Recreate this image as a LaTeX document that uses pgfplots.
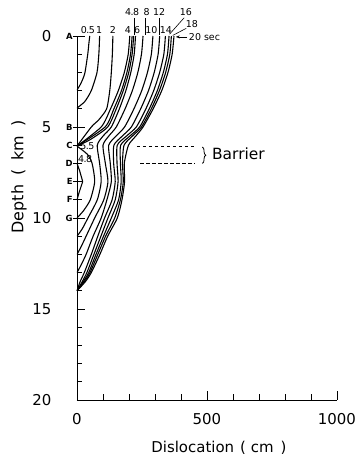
\documentclass[border=0pt]{standalone}
\usepackage{fontspec}
\setmainfont{DejaVu Sans}
\usepackage{graphicx}
\usepackage{pgfplots}
\pgfplotsset{compat=1.18}
\usetikzlibrary{decorations.pathreplacing,arrows.meta}
\newcommand{\sm}{\fontsize{9.5}{9.5}\selectfont}
\newcommand{\lt}{\fontsize{8.5}{8.5}\selectfont\bfseries}
\begin{document}
\begin{tikzpicture}
\begin{axis}[
 scale only axis, width=260bp, height=364bp,
 xmin=0,xmax=1000,ymin=-20,ymax=0,
 axis x line*=bottom, axis y line*=left,
 axis line style={line width=0.9pt},
 xtick={0,500,1000}, xticklabels={0,500,1000},
 minor x tick num=4,
 ytick={-20,-15,-10,-5,0}, yticklabels={20,15,10,5,0},
 minor y tick num=4,
 tick align=inside,
 major tick length=8.5bp, minor tick length=5.5bp,
 tick style={black,line width=0.8pt},
 ticklabel style={font=\fontsize{15}{15}\selectfont},
 xticklabel style={yshift=-10bp},
 yticklabel style={xshift=-22bp},
 extra y ticks={0,-5,-6,-7,-8,-9,-10},
 extra y tick labels={},
 extra y tick style={tick align=outside, major tick length=4bp},
 clip mode=individual,
 cycle list={{black,solid,mark=none}},
 every axis plot/.append style={black, line width=1.1pt, line join=round, smooth, tension=0.4},
]
% 0.5 s
\addplot coordinates {(49,0) (45,-0.5) (42,-0.93) (30,-2.05) (15,-2.6) (0,-2.97)};
% 1 s
\addplot coordinates {(87,0) (84,-1) (77,-2) (55,-3) (30,-3.6) (0,-3.96)};
% 2 s
\addplot coordinates {(138,0) (136,-1) (132,-2) (126,-3) (114,-4) (84,-4.6) (55,-5) (0,-6.05)};
% 4 s
\addplot coordinates {(203,0) (197,-1) (182,-2) (159,-3) (129,-4) (93,-5) (0,-6.05)};
% 4.8 s
\addplot coordinates {(212,0) (206,-1) (192,-2) (171,-3) (142,-4) (108,-5) (0,-6.05)};
\addplot[sharp plot] coordinates {(0,-7) (10,-7.4) (22,-8) (8,-8.6) (0,-9)};
% 5.5 s
\addplot coordinates {(218,0) (212,-1) (199,-2) (178,-3) (151,-4) (118,-5) (50,-5.7) (0,-6.05)};
\addplot coordinates {(0,-6.05) (40,-6.5) (58,-7) (68,-8) (51,-9) (25,-9.6) (0,-10)};
% 6 s
\addplot coordinates {(225,0) (220,-1) (207,-2) (188,-3) (163,-4) (132,-5) (100,-5.5) (78,-6) (87,-7) (93,-8) (78,-9) (42,-10) (20,-10.6) (0,-11)};
% 8 s
\addplot coordinates {(254,0) (248,-1) (234,-2) (213,-3) (185,-4) (151,-5) (122,-5.5) (100,-6) (109,-7) (119,-8) (103,-9) (68,-10) (35,-11) (15,-11.6) (0,-12)};
% 10 s
\addplot coordinates {(292,0) (286,-1) (271,-2) (249,-3) (219,-4) (183,-5) (150,-5.5) (122,-6) (128,-7) (132,-8) (115,-9) (93,-10) (62,-11) (35,-12) (15,-12.6) (0,-13)};
% 12 s
\addplot coordinates {(318,0) (312,-1) (297,-2) (275,-3) (245,-4) (209,-5) (174,-5.5) (142,-6) (141,-7) (147,-8) (135,-9) (106,-10) (80,-11) (55,-12) (28,-13) (12,-13.5) (0,-14)};
% 14 s
\addplot coordinates {(340,0) (334,-1) (318,-2) (295,-3) (265,-4) (228,-5) (190,-5.5) (155,-6) (154,-7) (158,-8) (147,-9) (119,-10) (92,-11) (65,-12) (38,-13) (20,-13.5) (0,-14)};
% 16 s
\addplot coordinates {(354,0) (348,-1) (332,-2) (309,-3) (278,-4) (241,-5) (203,-5.5) (168,-6) (167,-7) (170,-8) (160,-9) (132,-10) (102,-11) (73,-12) (45,-13) (24,-13.5) (0,-14)};
% 18 s
\addplot coordinates {(363,0) (357,-1) (341,-2) (317,-3) (286,-4) (248,-5) (213,-5.5) (181,-6) (175,-7) (178,-8) (167,-9) (145,-10) (110,-11) (80,-12) (50,-13) (28,-13.5) (0,-14)};
% 20 s
\addplot coordinates {(373,0) (366,-1) (350,-2) (326,-3) (293,-4) (254,-5) (226,-5.5) (198,-6) (182,-7) (183,-8) (173,-9) (155,-10) (118,-11) (88,-12) (55,-13) (32,-13.5) (0,-14)};

% letters
\node[anchor=east, inner sep=0pt, font=\lt] at (axis cs:-16,0) {A};
\node[anchor=east, inner sep=0pt, font=\lt] at (axis cs:-16,-5) {B};
\node[anchor=east, inner sep=0pt, font=\lt] at (axis cs:-16,-6) {C};
\node[anchor=east, inner sep=0pt, font=\lt] at (axis cs:-16,-7) {D};
\node[anchor=east, inner sep=0pt, font=\lt] at (axis cs:-16,-8) {E};
\node[anchor=east, inner sep=0pt, font=\lt] at (axis cs:-16,-9) {F};
\node[anchor=east, inner sep=0pt, font=\lt] at (axis cs:-16,-10) {G};
% time labels, lower row
\node[anchor=base, inner sep=0pt, font=\sm] at (axis cs:42,0.12) {0\kern-0.5bp.\kern-0.5bp5};
\node[anchor=base, inner sep=0pt, font=\sm] at (axis cs:85,0.12) {1};
\node[anchor=base, inner sep=0pt, font=\sm] at (axis cs:138,0.12) {2};
\node[anchor=base, inner sep=0pt, font=\sm] at (axis cs:196,0.12) {4};
\node[anchor=base, inner sep=0pt, font=\sm] at (axis cs:231,0.12) {6};
\node[anchor=base, inner sep=0pt, font=\sm] at (axis cs:286,0.12) {10};
\node[anchor=base, inner sep=0pt, font=\sm] at (axis cs:342,0.12) {14};
% upper row
\node[anchor=base, inner sep=0pt, font=\sm] at (axis cs:212,1.13) {4\kern-0.5bp.\kern-0.5bp8};
\node[anchor=base, inner sep=0pt, font=\sm] at (axis cs:268,1.13) {8};
\node[anchor=base, inner sep=0pt, font=\sm] at (axis cs:316,1.13) {12};
\node[anchor=base, inner sep=0pt, font=\sm] at (axis cs:419,1.13) {16};
\node[anchor=base, inner sep=0pt, font=\sm] at (axis cs:442,0.44) {18};
\node[anchor=base west, inner sep=0pt, font=\sm] at (axis cs:430,-0.27) {20 sec};
\draw[line width=0.6pt] (axis cs:222,1.0) -- (axis cs:222,0.05);
\draw[line width=0.6pt] (axis cs:262,1.0) -- (axis cs:262,0.05);
\draw[line width=0.6pt] (axis cs:318,1.0) -- (axis cs:318,0.05);
\draw[line width=0.6pt] (axis cs:412,1.0) -- (axis cs:356,0.1);
\draw[line width=0.6pt] (axis cs:420,0.42) -- (axis cs:368,0.03);
\draw[line width=0.6pt,-{Stealth[length=4bp,width=3bp]}] (axis cs:424,-0.05) -- (axis cs:380,-0.05);
% small labels near C and D
\node[inner sep=0pt, font=\sm] at (axis cs:40,-6.04) {5\kern-0.5bp.\kern-0.5bp5};
\node[inner sep=0pt, font=\sm] at (axis cs:31,-6.76) {4\kern-0.5bp.\kern-0.5bp8};
% barrier
\draw[line width=0.7pt, dash pattern=on 3.5bp off 2.5bp] (axis cs:230,-6.05) -- (axis cs:458,-6.05);
\draw[line width=0.7pt, dash pattern=on 3.5bp off 2.5bp] (axis cs:244,-7.0) -- (axis cs:452,-7.0);
\draw[line width=0.8pt, decorate, decoration={brace, amplitude=3.5bp}] (axis cs:482,-6.1) -- (axis cs:482,-7.0);
\node[anchor=base west, inner sep=0pt, font=\fontsize{15.5}{15.5}\selectfont] at (axis cs:519,-6.81) {Barrier};
% axis labels
\node[anchor=base, inner sep=0pt, font=\fontsize{15}{15}\selectfont] at (axis cs:546,-22.86) {Dislocation\hspace{6bp}(\hspace{5bp}cm\hspace{7bp})};
\node[rotate=90, inner sep=0pt, font=\fontsize{16}{16}\selectfont] at (axis cs:-223,-7.75) {Depth\hspace{9bp}(\hspace{9bp}km\hspace{9bp})};
\end{axis}
\path (-77bp,-59bp) rectangle (278bp,400bp);
\end{tikzpicture}
\end{document}
